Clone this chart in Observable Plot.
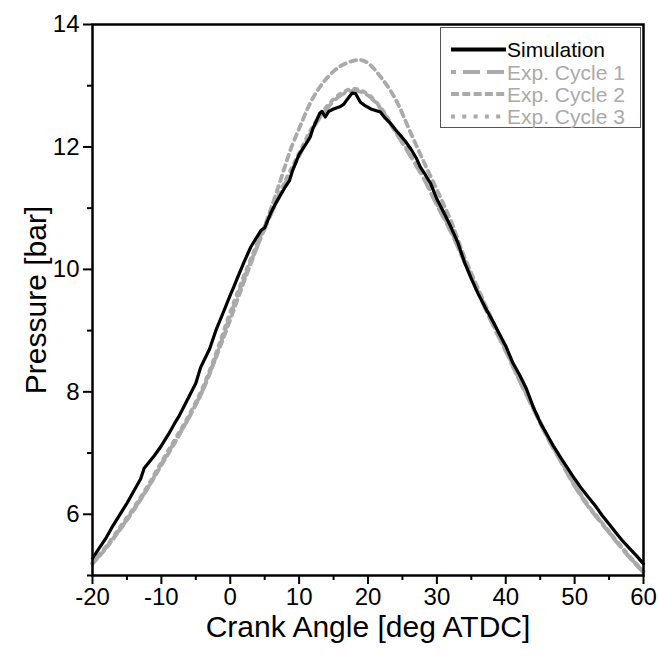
<!DOCTYPE html>
<html>
<head>
<meta charset="utf-8">
<script src="https://cdn.jsdelivr.net/npm/d3@7"></script>
<script src="https://cdn.jsdelivr.net/npm/@observablehq/plot@0.6"></script>
<style>
  html, body { margin: 0; padding: 0; background: #fff; }
  #chart { width: 659px; height: 657px; }
</style>
</head>
<body>
<div id="chart"></div>
<script>
// ---- Data ----
const seriesNames = ["Simulation", "Exp. Cycle 1", "Exp. Cycle 2", "Exp. Cycle 3"];

const simAngle = [-20,-19,-18,-17,-16,-15,-14,-13,-12.5,-12,-11,-10,-9,-8,-7.5,-7,-6,-5,-4.3,-3,-2,-1,0,0.5,1,2,3,4,4.5,5,6,6.8,8,8.6,9,10,11,11.6,12,13,13.3,13.8,14.3,15,16,16.5,17,17.7,18.2,18.9,19.5,20.4,21.8,22.5,23.3,24,24.7,25.5,26.2,27,27.6,28.3,29.1,30,31,32,33,34,35,36,37,38,39,40,41,42,43,44,45,46,47,48,49,50,51,52,53,54,55,56,57,58,59,60];
const simPressure = [5.28,5.45,5.62,5.82,6.0,6.18,6.38,6.58,6.75,6.82,6.96,7.12,7.3,7.5,7.59,7.7,7.92,8.14,8.40,8.7,9.03,9.3,9.58,9.71,9.85,10.12,10.37,10.55,10.64,10.68,10.95,11.12,11.35,11.45,11.6,11.88,12.05,12.16,12.3,12.55,12.58,12.49,12.58,12.62,12.66,12.7,12.78,12.88,12.87,12.73,12.68,12.62,12.57,12.47,12.38,12.28,12.19,12.08,11.97,11.82,11.67,11.55,11.40,11.15,10.93,10.7,10.45,10.12,9.85,9.6,9.38,9.18,8.96,8.75,8.48,8.28,8.05,7.75,7.5,7.3,7.1,6.92,6.75,6.58,6.42,6.28,6.14,5.98,5.84,5.7,5.56,5.44,5.32,5.19];

const exp1Angle = [-20,-18,-16,-14,-12,-10,-8,-6,-5,-4,-2,0,2,4,6,8,10,12,14,16,18,20,22,24,26,28,30,32,34,36,38,40,42,44,46,48,50,52,54,56,58,60];
const exp1Pressure = [5.2,5.46,5.76,6.08,6.43,6.82,7.2,7.58,7.8,8.03,8.6,9.25,9.85,10.4,10.92,11.4,11.85,12.3,12.62,12.84,12.92,12.84,12.6,12.24,11.88,11.5,11.05,10.62,10.12,9.62,9.12,8.66,8.18,7.72,7.26,6.86,6.46,6.12,5.84,5.56,5.29,5.05];

const exp2Angle = [-20,-18,-16,-14,-12,-10,-8,-6,-4,-2,0,2,4,6,8,8.7,10,12,14,16,18,19,20,22,24,26,28,30,32,34,36,38,40,42,44,46,48,50,52,54,56,58,60];
const exp2Pressure = [5.19,5.45,5.75,6.07,6.42,6.8,7.18,7.58,8.02,8.58,9.18,9.8,10.4,11.02,11.7,11.94,12.3,12.8,13.12,13.32,13.41,13.42,13.37,13.12,12.78,12.28,11.78,11.3,10.8,10.2,9.68,9.18,8.7,8.2,7.74,7.28,6.87,6.48,6.14,5.85,5.57,5.3,5.06];

const exp3Angle = [-20,-18,-16,-14,-12,-10,-8,-6,-4,-2,0,2,4,6,8,10,12,14,16,18,20,22,24,26,28,30,32,34,36,38,40,42,44,46,48,50,52,54,56,58,60];
const exp3Pressure = [5.21,5.48,5.79,6.11,6.46,6.85,7.23,7.62,8.07,8.65,9.3,9.9,10.44,10.96,11.45,11.9,12.34,12.66,12.87,12.95,12.86,12.62,12.26,11.9,11.52,11.07,10.64,10.14,9.64,9.14,8.68,8.2,7.74,7.28,6.88,6.48,6.14,5.86,5.58,5.31,5.07];

const xTicks = [-20,-10,0,10,20,30,40,50,60];
const xMinorTicks = [-15,-5,5,15,25,35,45,55];
const yTicks = [6,8,10,12,14];
const yMinorTicks = [5,7,9,11,13];
const xLabel = "Crank Angle [deg ATDC]";
const yLabel = "Pressure [bar]";

// ---- Build tables ----
const toRows = (xs, ys, s) => xs.map((x, i) => ({angle: x, pressure: ys[i], series: s}));
const sim = toRows(simAngle, simPressure, seriesNames[0]);
const exp1 = toRows(exp1Angle, exp1Pressure, seriesNames[1]);
const exp2 = toRows(exp2Angle, exp2Pressure, seriesNames[2]);
const exp3 = toRows(exp3Angle, exp3Pressure, seriesNames[3]);

const grey = "#aaaaaa";
const styles = [
  {stroke: "#000", strokeWidth: 3.2, dash: null, text: "#000"},
  {stroke: grey, strokeWidth: 3.8, dash: "11,6", text: grey},
  {stroke: grey, strokeWidth: 3.8, dash: "6,5", text: grey},
  {stroke: grey, strokeWidth: 3.8, dash: "3,6", text: grey}
];

const font = "'Liberation Sans', Arial, Helvetica, sans-serif";

const plot = Plot.plot({
  width: 659,
  height: 657,
  marginLeft: 92,
  marginRight: 16,
  marginTop: 24,
  marginBottom: 82,
  style: {fontFamily: font, background: "#fff", color: "#000"},
  x: {domain: [-20, 60]},
  y: {domain: [5, 14]},
  marks: [
    Plot.line(exp3, {x: "angle", y: "pressure", stroke: styles[3].stroke, strokeWidth: styles[3].strokeWidth, strokeDasharray: styles[3].dash, curve: "catmull-rom"}),
    Plot.line(exp2, {x: "angle", y: "pressure", stroke: styles[2].stroke, strokeWidth: styles[2].strokeWidth, strokeDasharray: styles[2].dash, curve: "catmull-rom"}),
    Plot.line(exp1, {x: "angle", y: "pressure", stroke: styles[1].stroke, strokeWidth: styles[1].strokeWidth, strokeDasharray: styles[1].dash, curve: "catmull-rom"}),
    Plot.line(sim, {x: "angle", y: "pressure", stroke: styles[0].stroke, strokeWidth: styles[0].strokeWidth, curve: "linear"}),
    Plot.axisX({ticks: xTicks, tickSize: 9, tickPadding: 3, fontSize: 24, strokeWidth: 2, label: null}),
    Plot.axisX({ticks: xMinorTicks, tickSize: 5, strokeWidth: 2, text: null, label: null}),
    Plot.axisY({ticks: yTicks, tickSize: 9, tickPadding: 4, fontSize: 24, strokeWidth: 2, label: null}),
    Plot.axisY({ticks: yMinorTicks, tickSize: 5, strokeWidth: 2, text: null, label: null}),
    Plot.frame({stroke: "#000", strokeWidth: 2.5}),
    Plot.text([xLabel], {frameAnchor: "bottom", dy: 61, text: d => d, fontSize: 30, fill: "#000", textAnchor: "middle"}),
    Plot.text([yLabel], {frameAnchor: "left", dx: -56, rotate: -90, text: d => d, fontSize: 30, fill: "#000", textAnchor: "middle"})
  ]
});

// Plain hyphen-minus in tick labels, like the reference
d3.select(plot).selectAll("text").each(function() {
  const t = d3.select(this);
  const s = t.text();
  if (s.includes("\u2212")) t.text(s.replace("\u2212", "-"));
});

// ---- Legend (drawn inside the SVG, top-right) ----
const svg = d3.select(plot);
const lg = svg.append("g").attr("font-family", font).attr("font-size", 21).attr("text-anchor", "start");
const box = {x: 440.5, y: 27.5, w: 200, h: 100};
lg.append("rect").attr("x", box.x).attr("y", box.y).attr("width", box.w).attr("height", box.h)
  .attr("fill", "#fff").attr("stroke", "#555").attr("stroke-width", 1);
const rowY = [49.5, 72, 94, 116.5];
const legendDash = [null, "17,7", "8,3.3", "4,7.3"];
seriesNames.forEach((name, i) => {
  const st = styles[i];
  lg.append("line").attr("x1", 451).attr("x2", 506).attr("y1", rowY[i]).attr("y2", rowY[i])
    .attr("stroke", st.stroke).attr("stroke-width", i === 0 ? 4 : 3.8)
    .attr("stroke-dasharray", legendDash[i])
    .attr("stroke-dashoffset", i === 1 ? -12 : 0);
  lg.append("text").attr("x", 507).attr("y", rowY[i]).attr("dy", "0.36em")
    .attr("text-anchor", "start").attr("fill", st.text).text(name);
});

document.getElementById("chart").appendChild(plot);
</script>
</body>
</html>
